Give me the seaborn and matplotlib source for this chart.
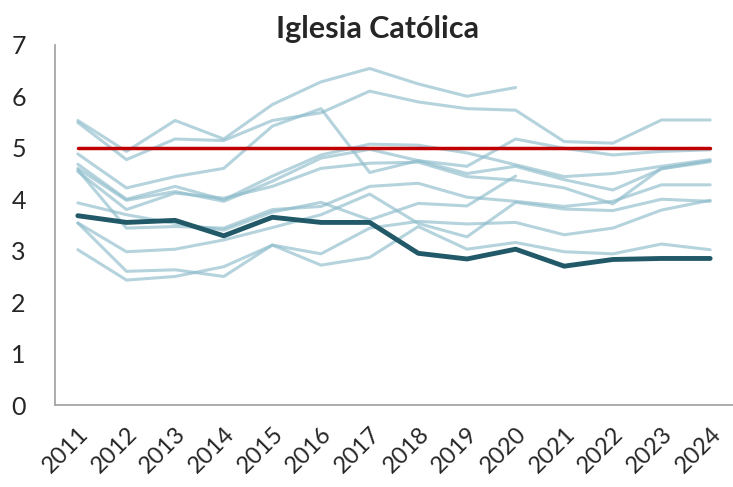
import numpy as np
import pandas as pd
import matplotlib
matplotlib.use("Agg")
import matplotlib.pyplot as plt
import seaborn as sns

# valores (escala 0-7)
years = list(range(2011, 2025))
year_labels = [str(y) for y in years]

# paises de referencia (lineas claras)
s01 = [5.53, 4.93, 5.53, 5.17, 5.84, 6.28, 6.54, 6.24, 6.00, 6.17, np.nan, np.nan, np.nan, np.nan]
s02 = [5.49, 4.77, 5.17, 5.14, 5.53, 5.68, 6.10, 5.89, 5.76, 5.73, 5.12, 5.09, 5.54, 5.54]
s03 = [4.88, 4.22, 4.44, 4.60, 5.42, 5.76, 4.52, 4.75, 4.64, 5.17, 4.99, 4.86, 4.93, 4.96]
s04 = [4.68, 4.00, 4.25, 3.99, 4.45, 4.86, 5.07, 5.05, 4.90, 4.67, 4.44, 4.50, 4.64, 4.77]
s05 = [4.60, 3.98, 4.15, 3.96, 4.35, 4.80, 4.97, 4.75, 4.50, 4.64, 4.38, 4.18, 4.59, 4.73]
s06 = [4.54, 3.80, 4.12, 4.02, 4.25, 4.60, 4.70, 4.72, 4.44, 4.37, 4.22, 3.91, 4.60, 4.75]
s07 = [3.93, 3.70, 3.53, 3.40, 3.75, 3.94, 3.60, 3.92, 3.87, 4.45, np.nan, np.nan, np.nan, np.nan]
s08 = [4.57, 3.44, 3.47, 3.44, 3.80, 3.86, 4.25, 4.31, 4.04, 3.96, 3.86, 3.96, 4.28, 4.28]
s09 = [3.54, 2.98, 3.03, 3.21, 3.45, 3.70, 4.10, 3.53, 3.27, 3.94, 3.81, 3.78, 4.00, 3.96]
s10 = [3.54, 2.60, 2.63, 2.50, 3.11, 2.94, 3.44, 3.57, 3.52, 3.55, 3.31, 3.44, 3.79, 3.98]
s11 = [3.02, 2.43, 2.50, 2.69, 3.11, 2.72, 2.87, 3.47, 3.03, 3.16, 2.98, 2.94, 3.13, 3.02]
others = [s01, s02, s03, s04, s05, s06, s07, s08, s09, s10, s11]

# pais destacado
main = [3.68, 3.55, 3.59, 3.29, 3.65, 3.55, 3.55, 2.95, 2.84, 3.03, 2.70, 2.83, 2.85, 2.85]
# referencia
ref = [5] * len(years)

rows = []
for i, s in enumerate(others):
    for y, v in zip(years, s):
        rows.append({"year": y, "value": v, "serie": i})
df_others = pd.DataFrame(rows).dropna()
df_main = pd.DataFrame({"year": years, "value": main})
df_ref = pd.DataFrame({"year": years, "value": ref})

sns.set_style("white")
plt.rcParams["font.family"] = ["Lato", "DejaVu Sans"]

fig = plt.figure(figsize=(7.33, 4.87), dpi=100)
ax = fig.add_axes([0.075, 0.168, 0.925, 0.74])

sns.lineplot(data=df_others, x="year", y="value", units="serie", estimator=None,
             color="#8dbccb", alpha=0.65, lw=2.2, ax=ax)
sns.lineplot(data=df_ref, x="year", y="value", color="#c00000", lw=2.5, ax=ax)
sns.lineplot(data=df_main, x="year", y="value", color="#215968", lw=3.5, ax=ax)

ax.set_xlim(2010.53, 2024.47)
ax.set_ylim(0, 7)
ax.set_yticks(range(0, 8))
ax.set_xticks(years)
ax.set_xticklabels(year_labels, rotation=45, ha="right", rotation_mode="anchor")
ax.set_xlabel("")
ax.set_ylabel("")

for side in ["top", "right"]:
    ax.spines[side].set_visible(False)
for side in ["left", "bottom"]:
    ax.spines[side].set_color("#a6a6a6")
    ax.spines[side].set_linewidth(1.3)

ax.tick_params(axis="y", length=7, color="#a6a6a6", width=1.3, labelsize=18, pad=14)
ax.tick_params(axis="x", length=7, color="#a6a6a6", width=1.3, labelsize=17, pad=6)

fig.text(0.515, 0.94, "Iglesia Católica", ha="center", va="center",
         fontsize=22, fontweight="bold")

fig.savefig("out.png", dpi=100)
